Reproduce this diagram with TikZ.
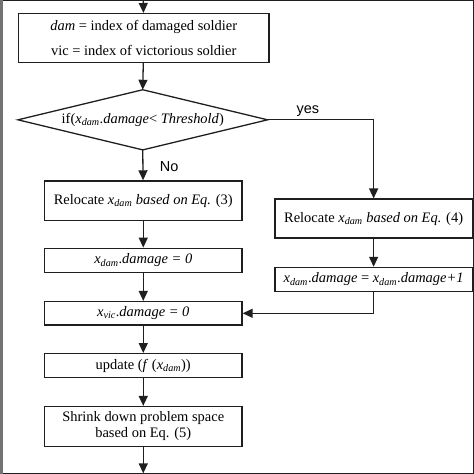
\documentclass[tikz,border=0pt]{standalone}
\usepackage{fontspec}
\setmainfont{Liberation Serif}
\setsansfont{Liberation Sans}
\usetikzlibrary{shapes.geometric,arrows.meta}
\newcommand{\xs}[1]{\textit{x}\textsubscript{\textit{#1}}}
\begin{document}
\begin{tikzpicture}[x=1pt,y=-1pt,
  every path/.style={line width=1.3pt, draw=black!88},
  box/.style={draw, rectangle, inner sep=0pt, minimum width=198pt, align=center, font=\fontsize{14.5}{16}\selectfont},
  dia/.style={inner sep=0pt, minimum width=249pt, minimum height=59pt, font=\fontsize{14.5}{16}\selectfont},
  lab/.style={font=\sffamily\fontsize{14.5}{16}\selectfont, inner sep=0pt},
  arr/.style={-{Triangle[length=10pt,width=9pt]}}]
\useasboundingbox (0,0) rectangle (474,474);
\fill[black!55] (0,0) rectangle (2,474);
\coordinate (top) at (143,0);
\coordinate (bot) at (143,474);
\node[box, minimum width=251pt, minimum height=49pt] (b1) at (143.5,37.5)
  {\textit{dam} = index of damaged soldier\\[9pt] vic = index of victorious soldier};
\node[dia] (d) at (142.5,119.5) {if(\xs{dam}.\textit{damage}< \textit{Threshold})};
\draw (d.west) -- (d.north) -- (d.east) -- (d.south) -- cycle;
\node[box, minimum height=39.5pt] (r3) at (143,200.5) {Relocate \xs{dam} \textit{based on Eq.} (3)};
\node[box, minimum height=24.5pt] (z0) at (143,260.5) {\xs{dam}.\textit{damage = 0}};
\node[box, minimum height=23.5pt] (v0) at (143,313.5) {\xs{vic}.\textit{damage = 0}};
\node[box, minimum height=24pt] (up) at (143,366) {update (\textit{f} (\xs{dam}))};
\node[box, minimum height=40pt] (sh) at (143,427) {Shrink down problem space\\based on Eq. (5)};
\node[box, minimum height=39pt] (r4) at (374,218.5) {Relocate \xs{dam} \textit{based on Eq.} (4)};
\node[box, minimum height=24pt] (r5) at (374,279.5) {\xs{dam}.\textit{damage} = \xs{dam}.\textit{damage+1}};
\node[lab] (yes) at (308,111) {yes};
\node[lab] (no) at (169,166) {No};
\draw[arr] (top) -- (b1);
\draw[arr] (b1) -- (d.north);
\draw[arr] (d.south) -- (r3);
\draw[arr] (r3) -- (z0);
\draw[arr] (z0) -- (v0);
\draw[arr] (v0) -- (up);
\draw[arr] (up) -- (sh);
\draw[arr] (sh) -- (bot);
\draw[arr] (d.east) -| (r4.north);
\draw[arr] (r4) -- (r5);
\draw[arr] (r5.south) |- (v0.east);
\end{tikzpicture}
\end{document}
